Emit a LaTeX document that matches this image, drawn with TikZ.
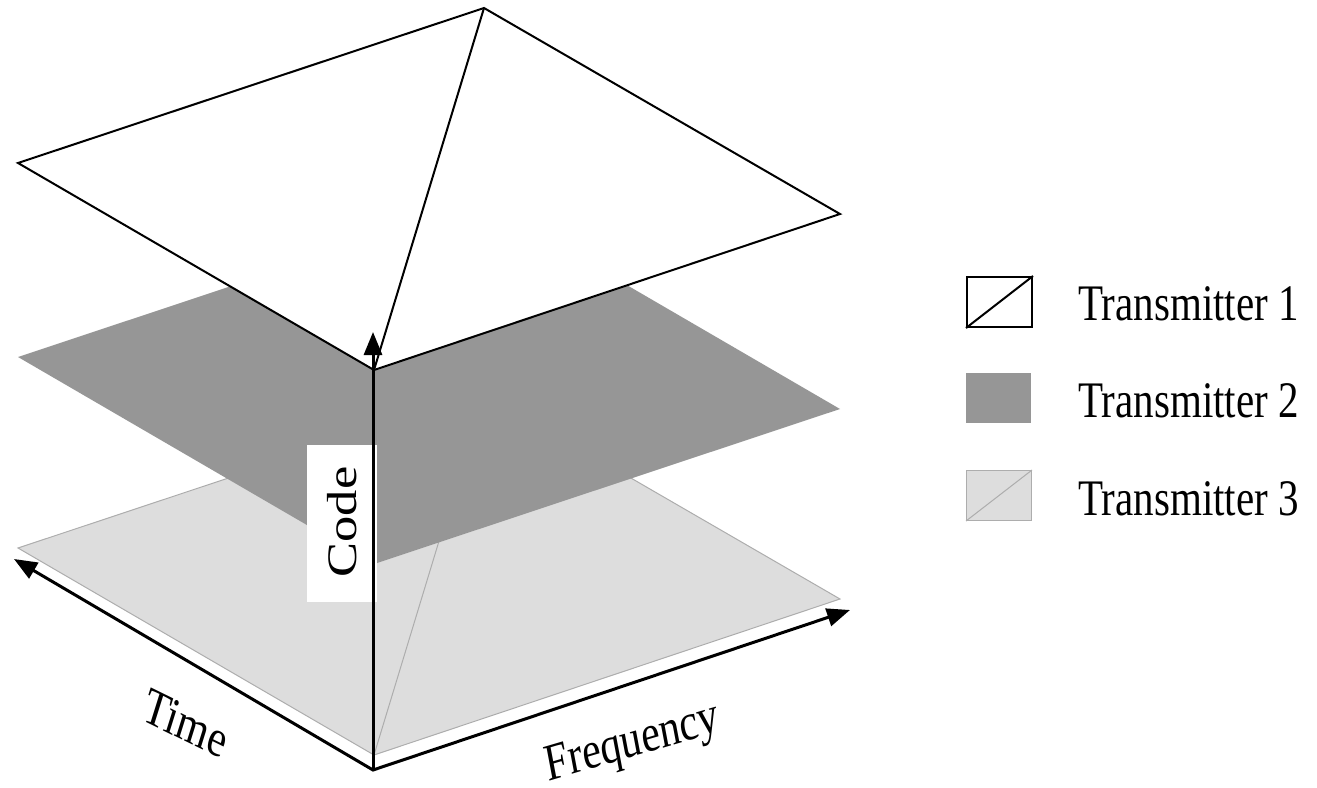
\documentclass[tikz,border=0pt]{standalone}
\usepackage{fontspec}
\setmainfont{Liberation Serif}
\usetikzlibrary{arrows.meta}
\definecolor{tdark}{gray}{0.59}
\definecolor{tlight}{gray}{0.865}
\definecolor{tedge}{gray}{0.68}
\tikzset{axtip/.tip={Triangle[length=23pt,width=18pt]}}
\begin{document}
\begin{tikzpicture}[x=1pt,y=-1pt,
  toplayer/.style={fill=white, draw=black, line width=2pt, line join=miter},
  midlayer/.style={fill=tdark},
  lowlayer/.style={fill=tlight, draw=tedge, line width=1pt},
  axisline/.style={line width=3pt, line join=miter},
  lbl/.style={font=\fontsize{42}{50}\selectfont, inner sep=0pt},
  legtext/.style={font=\fontsize{41}{49}\selectfont, inner sep=0pt, anchor=base west, yscale=1.25},
  legbox/.style={minimum width=65pt, minimum height=50pt, inner sep=0pt, anchor=north west}]
\useasboundingbox (0,0) rectangle (1317,787);
% layer vertices
\coordinate (aL) at (18,163);  \coordinate (aT) at (484,8);
\coordinate (aR) at (840,214); \coordinate (aB) at (374,370);
\coordinate (bL) at (18,357);  \coordinate (bT) at (484,202);
\coordinate (bR) at (840,409); \coordinate (bB) at (374,564);
\coordinate (cL) at (18,548);  \coordinate (cT) at (484,393);
\coordinate (cR) at (840,599); \coordinate (cB) at (374,755);
% transmitter 3
\filldraw[lowlayer] (cL) -- (cT) -- (cR) -- (cB) -- cycle;
\draw[draw=tedge, line width=1pt] (cT) -- (cB);
% transmitter 2
\fill[midlayer] (bL) -- (bT) -- (bR) -- (bB) -- cycle;
% transmitter 1
\filldraw[toplayer] (aL) -- (aT) -- (aR) -- (aB) -- cycle;
\draw[black, line width=2pt] (aT) -- (aB);
% code label box
\node[fill=white, minimum width=70pt, minimum height=157pt, inner sep=0pt] (codebox) at (342,523.5) {};
% axes
\coordinate (O) at (373,770);
\coordinate (tipT) at (14,559);
\coordinate (tipF) at (850,610);
\coordinate (tipC) at (373,332);
\draw[axisline, axtip-axtip] (tipT) -- (O) -- (tipF);
\draw[axisline, -axtip] (O) -- (tipC);
% axis labels
\node[lbl, yscale=1.25, rotate=90] (code) at (342,522) {Code};
\node[lbl, yscale=1.25, rotate=-21.4] (time) at (186,723) {Time};
\node[lbl, yscale=1.25, rotate=13.3] (freq) at (633,745) {Frequency};
% legend
\node[legbox, draw=black, line width=2pt, fill=white] (l1) at (966,276) {};
\draw[black, line width=2pt] (l1.south west) -- (l1.north east);
\node[legbox, fill=tdark] (l2) at (966,373) {};
\node[legbox, fill=tlight, draw=tedge, line width=1pt] (l3) at (966,470) {};
\draw[draw=tedge, line width=1pt] (l3.south west) -- (l3.north east);
\node[legtext] (t1) at (1078,320) {Transmitter 1};
\node[legtext] (t2) at (1078,417) {Transmitter 2};
\node[legtext] (t3) at (1078,515) {Transmitter 3};
\end{tikzpicture}
\end{document}
